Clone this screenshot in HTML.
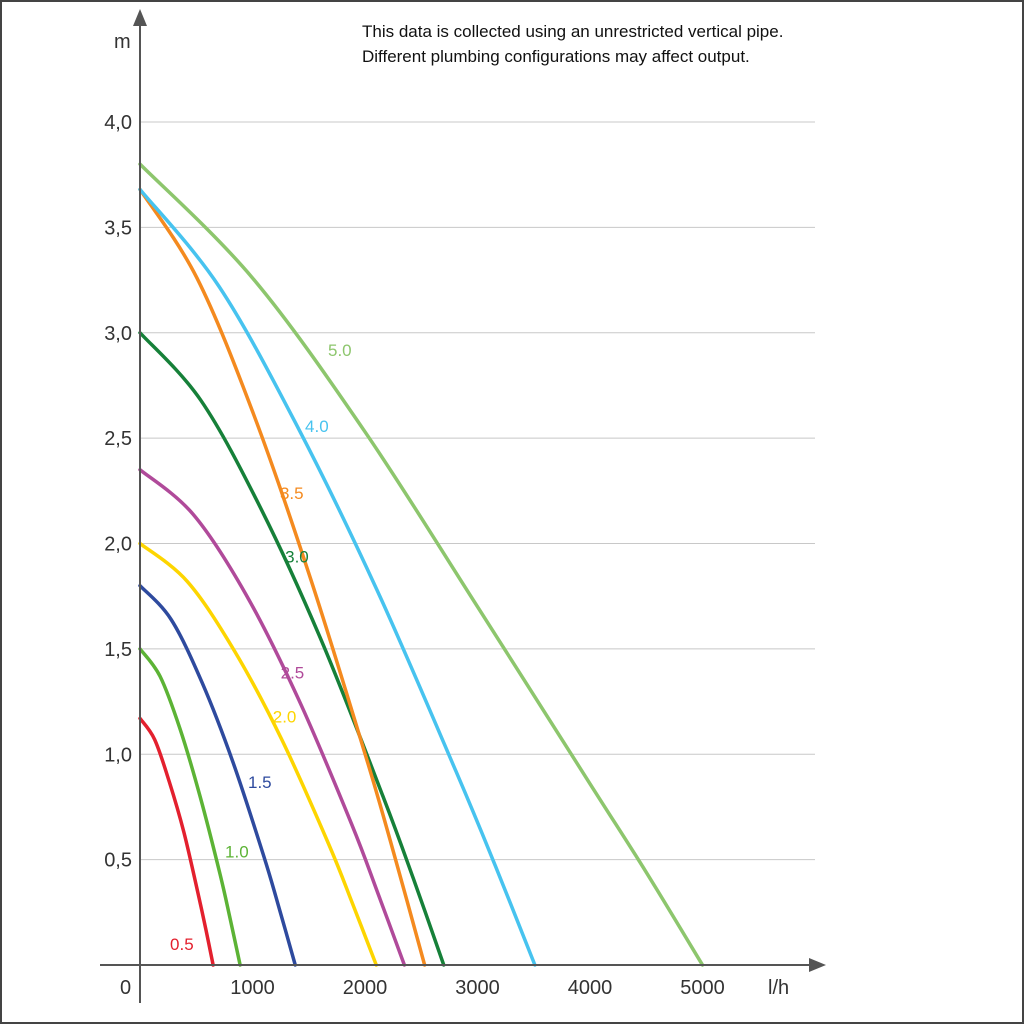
<!DOCTYPE html>
<html><head><meta charset="utf-8"><style>
html,body{margin:0;padding:0;background:#fff}
svg{display:block;font-family:"Liberation Sans",sans-serif}
</style></head><body>
<svg id="chart" width="1024" height="1024" viewBox="0 0 1024 1024">
<rect x="1" y="1" width="1022" height="1022" fill="#fff" stroke="#444" stroke-width="2"/>
<g id="grid"></g>
<g id="series"></g>
<g id="axes">
<line x1="140" y1="1003" x2="140" y2="20" stroke="#555" stroke-width="2"/>
<polygon points="133,26 140,9 147,26" fill="#555"/>
<line x1="100" y1="965" x2="815" y2="965" stroke="#555" stroke-width="2"/>
<polygon points="809,958 826,965 809,972" fill="#555"/>
<text x="114" y="48" font-size="20" fill="#333">m</text>
<text x="768" y="994" font-size="20" fill="#333">l/h</text>
<text x="120" y="994" font-size="20" fill="#333">0</text>
</g>
<g id="ticks"></g>
<g id="labels" font-size="17"></g>
<text font-size="17" fill="#111"><tspan x="362" y="37">This data is collected using an unrestricted vertical pipe.</tspan><tspan x="362" y="62">Different plumbing configurations may affect output.</tspan></text>
</svg>
<script>
const xTicks=[1000,2000,3000,4000,5000];
const yTicks=[0.5,1.0,1.5,2.0,2.5,3.0,3.5,4.0];
const yTickLabels=["0,5","1,0","1,5","2,0","2,5","3,0","3,5","4,0"];
const seriesNames=["0.5","1.0","1.5","2.0","2.5","3.0","3.5","4.0","5.0"];
const seriesColors=["#e3202e","#5cb335","#2e4a9e","#fdd500","#b04a9a","#168039","#f48a1f","#47c3ef","#8dc66d"];
const q05=[0,130,260,390,520,585,650];
const h05=[1.17,1.07,0.87,0.63,0.33,0.17,0];
const q10=[0,178,356,534,712,801,890];
const h10=[1.5,1.37,1.12,0.80,0.43,0.22,0];
const q15=[0,276,552,828,1104,1242,1380];
const h15=[1.8,1.64,1.34,0.96,0.51,0.26,0];
const q20=[0,420,840,1260,1680,1890,2100];
const h20=[2.0,1.82,1.49,1.07,0.57,0.29,0];
const q25=[0,470,940,1410,1880,2115,2350];
const h25=[2.35,2.14,1.76,1.26,0.67,0.34,0];
const q30=[0,540,1080,1620,2160,2430,2700];
const h30=[3.0,2.68,2.16,1.53,0.80,0.41,0];
const q35=[0,506,1012,1518,2024,2277,2530];
const h35=[3.68,3.26,2.61,1.83,0.96,0.49,0];
const q40=[0,702,1404,2106,2808,3159,3510];
const h40=[3.68,3.22,2.55,1.78,0.92,0.47,0];
const q50=[0,1000,2000,3000,4000,4500,5000];
const h50=[3.8,3.26,2.53,1.70,0.86,0.44,0];
const seriesQ=[q05,q10,q15,q20,q25,q30,q35,q40,q50];
const seriesH=[h05,h10,h15,h20,h25,h30,h35,h40,h50];
const labelQ=[267,756,960,1180,1250,1290,1244,1467,1671];
const labelH=[0.07,0.51,0.84,1.15,1.36,1.91,2.21,2.53,2.89];

const NS="http://www.w3.org/2000/svg";
const X=q=>140+q*0.1125;
const Y=h=>965-h*210.75;
function mk(tag,attrs,parent){const e=document.createElementNS(NS,tag);for(const k in attrs)e.setAttribute(k,attrs[k]);parent.appendChild(e);return e;}
const grid=document.getElementById('grid'),ticks=document.getElementById('ticks'),ser=document.getElementById('series'),lab=document.getElementById('labels');
yTicks.forEach((v,i)=>{
  const l=mk('line',{x1:140,x2:815,y1:Y(v),y2:Y(v),stroke:'#c8c8c8','stroke-width':1},grid);
  
  
  const t=mk('text',{x:132,y:Y(v)+7,'text-anchor':'end','font-size':20,fill:'#333'},ticks);
  t.textContent=yTickLabels[i];
  
  
});
xTicks.forEach(v=>{
  const t=mk('text',{x:X(v),y:994,'text-anchor':'middle','font-size':20,fill:'#333'},ticks);
  t.textContent=String(v);
  
  
});
function pathFor(qs,hs){
  const p=qs.map((q,i)=>[X(q),Y(hs[i])]);
  let d='M'+p[0][0]+','+p[0][1];
  for(let i=0;i<p.length-1;i++){
    const p0=p[i-1]||p[i],p1=p[i],p2=p[i+1],p3=p[i+2]||p[i+1];
    const c1=[p1[0]+(p2[0]-p0[0])/6,p1[1]+(p2[1]-p0[1])/6];
    const c2=[p2[0]-(p3[0]-p1[0])/6,p2[1]-(p3[1]-p1[1])/6];
    d+=' C'+c1+' '+c2+' '+p2;
  }
  return d;
}
seriesQ.forEach((qs,i)=>{
  const p=mk('path',{d:pathFor(qs,seriesH[i]),fill:'none',stroke:seriesColors[i],'stroke-width':3.5,'stroke-linecap':'round'},ser);
  
  
  const t=mk('text',{x:X(labelQ[i]),y:Y(labelH[i]),fill:seriesColors[i]},lab);
  t.textContent=seriesNames[i];
  
  
});
</script>
</body></html>
